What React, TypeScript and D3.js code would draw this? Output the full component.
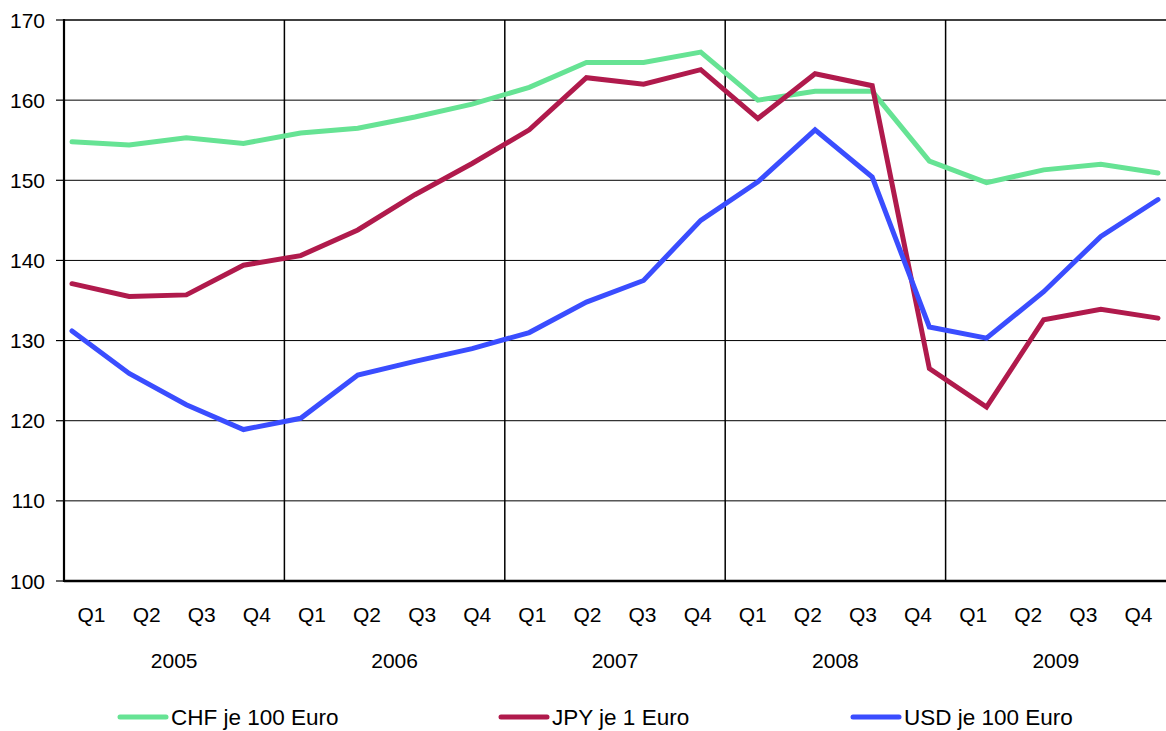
import React from 'react';
import * as d3 from 'd3';

const years = ['2005', '2006', '2007', '2008', '2009'];
const quarters = ['Q1', 'Q2', 'Q3', 'Q4'];
const categories = years.flatMap(y => quarters.map(q => `${y} ${q}`));

const chf = [154.8, 154.4, 155.3, 154.6, 155.9, 156.5, 157.9, 159.5, 161.6, 164.7,
  164.7, 166.0, 160.0, 161.1, 161.1, 152.4, 149.7, 151.3, 152.0, 150.9];
const jpy = [137.1, 135.5, 135.7, 139.4, 140.6, 143.8, 148.2, 152.1, 156.3, 162.8,
  162.0, 163.8, 157.7, 163.3, 161.8, 126.5, 121.7, 132.6, 133.9, 132.8];
const usd = [131.2, 125.9, 122.0, 118.9, 120.3, 125.7, 127.4, 129.0, 131.0, 134.8,
  137.5, 145.0, 149.8, 156.3, 150.4, 131.7, 130.3, 136.1, 143.0, 147.6];

const yTicks = [100, 110, 120, 130, 140, 150, 160, 170];

const series = [
  { name: 'CHF je 100 Euro', values: chf, color: '#66e394' },
  { name: 'JPY je 1 Euro', values: jpy, color: '#b01a4c' },
  { name: 'USD je 100 Euro', values: usd, color: '#3a4dff' },
];

const W = 1166;
const H = 731;
const left = 64, right = 1166, top = 20, bottom = 581;
const font = '"Liberation Sans", Arial, sans-serif';

export default function App() {
  // category scale for the labels
  const xBand = d3.scaleBand().domain(categories).range([left, right]);
  // lines are drawn on a slightly different spread than the labels
  const xLine = d3.scalePoint().domain(categories).range([72, 1158]);
  const y = d3.scaleLinear().domain([100, 170]).range([bottom, top]);

  const line = d3.line<number>()
    .x((d, i) => xLine(categories[i]) as number)
    .y(d => y(d));

  const legendX = [120, 501, 853];

  return (
    <svg width={W} height={H} style={{ position: 'absolute', left: 0, top: 0, background: '#fff' }}
      fontFamily={font}>
      {/* horizontal grid */}
      {yTicks.map(t => (
        <g key={t}>
          {t > 100 && <line x1={left} x2={right} y1={y(t)} y2={y(t)} stroke="#000" strokeWidth={t === 170 ? 1.5 : 1} />}
          <line x1={56} x2={left} y1={y(t)} y2={y(t)} stroke="#000" strokeWidth={1.2} />
          <text x={45} y={y(t)} dy="0.36em" textAnchor="end" fontSize={21} fill="#000">{t}</text>
        </g>
      ))}

      {/* year separators */}
      {years.slice(1).map((yr, i) => {
        const x = xBand(`${yr} Q1`) as number;
        return <line key={yr} x1={x} x2={x} y1={top} y2={bottom} stroke="#000" strokeWidth={1.5} />;
      })}

      {/* axes */}
      <line x1={left} x2={left} y1={top - 1} y2={bottom + 1} stroke="#000" strokeWidth={2.2} />
      <line x1={left} x2={right} y1={bottom} y2={bottom} stroke="#000" strokeWidth={2.4} />

      {/* series */}
      {series.map(s => (
        <path key={s.name} d={line(s.values) as string} fill="none" stroke={s.color}
          strokeWidth={5} strokeLinejoin="miter" strokeLinecap="round" />
      ))}

      {/* quarter labels */}
      {categories.map((c, i) => (
        <text key={c} x={(xBand(c) as number) + xBand.bandwidth() / 2} y={622}
          textAnchor="middle" fontSize={21} fill="#000">{quarters[i % 4]}</text>
      ))}

      {/* year labels */}
      {years.map(yr => {
        const x0 = xBand(`${yr} Q1`) as number;
        return (
          <text key={yr} x={x0 + xBand.bandwidth() * 2} y={668} textAnchor="middle"
            fontSize={21} fill="#000">{yr}</text>
        );
      })}

      {/* legend */}
      {series.map((s, i) => (
        <g key={s.name}>
          <line x1={legendX[i]} x2={legendX[i] + 46} y1={717} y2={717} stroke={s.color}
            strokeWidth={5} strokeLinecap="round" />
          <text x={legendX[i] + 51} y={724.5} fontSize={22.5} fill="#000">{s.name}</text>
        </g>
      ))}
    </svg>
  );
}
